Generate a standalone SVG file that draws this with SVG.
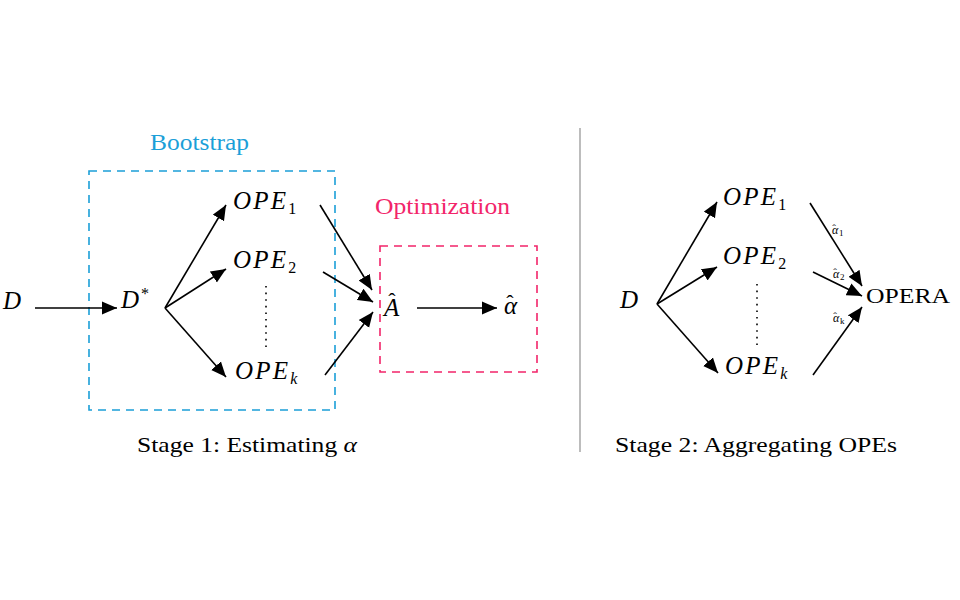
<svg xmlns="http://www.w3.org/2000/svg" width="960" height="600" viewBox="0 0 960 600">
<defs>
<marker id="ah" markerUnits="userSpaceOnUse" markerWidth="16" markerHeight="14" refX="15" refY="7" orient="auto">
<path d="M0,0.5 L15,7 L0,13.5 z" fill="#000"/>
</marker>
<style>
.math{font-family:"Liberation Serif","DejaVu Serif",serif;font-style:italic;font-size:25px;fill:#000}
.ope{letter-spacing:2.2px}
.sub{font-family:"Liberation Serif","DejaVu Serif",serif;font-style:normal;font-size:16px;letter-spacing:0}
.subi{font-family:"Liberation Serif","DejaVu Serif",serif;font-style:italic;font-size:16px;letter-spacing:0}
.hat{font-style:normal;font-size:22px}
.cap{font-family:"Liberation Serif","DejaVu Serif",serif;font-size:22px;fill:#000}
.lbl{font-family:"Liberation Serif","DejaVu Serif",serif;font-style:italic;font-size:12px;fill:#000}
.lhat{font-style:normal;font-size:11px}
.lsub{font-size:9px;font-style:normal}
.edge{stroke:#000;stroke-width:1.6;fill:none;marker-end:url(#ah)}
.dots{stroke:#000;stroke-width:1.6;stroke-dasharray:1.6 5;fill:none}
</style>
</defs>
<rect width="960" height="600" fill="#fff"/>

<g id="bootstrap">
<rect x="89" y="171" width="246" height="239" fill="none" stroke="#1B9FD8" stroke-width="1.6" stroke-dasharray="8 6"/>
<text x="150" y="150" textLength="99" lengthAdjust="spacingAndGlyphs" font-family="Liberation Serif, DejaVu Serif, serif" font-size="23" fill="#1B9FD8">Bootstrap</text>
</g>
<g id="optimization">
<rect x="380" y="246" width="157" height="126" fill="none" stroke="#F2256A" stroke-width="1.6" stroke-dasharray="8 6"/>
<text x="375" y="214" textLength="135" lengthAdjust="spacingAndGlyphs" font-family="Liberation Serif, DejaVu Serif, serif" font-size="23" fill="#F2256A">Optimization</text>
</g>

<g id="divider"><line x1="580" y1="128" x2="580" y2="452" stroke="#999" stroke-width="1.3"/></g>

<g id="s1-D"><text class="math" x="3" y="309">D</text></g>
<g id="s1-Dstar"><text class="math" x="121" y="308">D<tspan class="sub" dx="2" dy="-9">*</tspan></text></g>
<g id="s1-OPE1"><text class="math ope" x="233" y="209">OPE<tspan class="sub" dy="5">1</tspan></text></g>
<g id="s1-OPE2"><text class="math ope" x="233" y="268">OPE<tspan class="sub" dy="5">2</tspan></text></g>
<g id="s1-OPEk"><text class="math ope" x="235" y="379">OPE<tspan class="subi" dy="5">k</tspan></text></g>
<g id="s1-dots"><line class="dots" x1="266" y1="286" x2="266" y2="348"/></g>
<g id="s1-Ahat"><text class="math" x="384" y="316">A<tspan class="hat" dx="-11" dy="-8">ˆ</tspan></text></g>
<g id="s1-alphahat"><text class="math" x="504" y="314">α<tspan class="hat" dx="-11" dy="-4">ˆ</tspan></text></g>

<g id="s2-D"><text class="math" x="620" y="308">D</text></g>
<g id="s2-OPE1"><text class="math ope" x="723" y="205">OPE<tspan class="sub" dy="5">1</tspan></text></g>
<g id="s2-OPE2"><text class="math ope" x="723" y="264">OPE<tspan class="sub" dy="5">2</tspan></text></g>
<g id="s2-OPEk"><text class="math ope" x="725" y="374">OPE<tspan class="subi" dy="5">k</tspan></text></g>
<g id="s2-dots"><line class="dots" x1="757" y1="284" x2="757" y2="346"/></g>
<g id="s2-OPERA"><text x="866" y="303" textLength="84" lengthAdjust="spacingAndGlyphs" font-family="Liberation Serif, DejaVu Serif, serif" font-size="22" fill="#000">OPERA</text></g>

<g id="connectors">
<line class="edge" x1="35" y1="308" x2="117" y2="308"/>
<line class="edge" x1="165" y1="308" x2="226" y2="205"/>
<line class="edge" x1="165" y1="308" x2="226" y2="269"/>
<line class="edge" x1="165" y1="308" x2="226" y2="377"/>
<line class="edge" x1="320" y1="205" x2="372" y2="290"/>
<line class="edge" x1="323" y1="272" x2="373" y2="302"/>
<line class="edge" x1="325" y1="375" x2="373" y2="312"/>
<line class="edge" x1="417" y1="308" x2="497" y2="308"/>
<line class="edge" x1="657" y1="304" x2="717" y2="202"/>
<line class="edge" x1="657" y1="304" x2="717" y2="267"/>
<line class="edge" x1="657" y1="304" x2="718" y2="373"/>
<line class="edge" x1="810" y1="203" x2="862" y2="286"/>
<line class="edge" x1="813" y1="272" x2="862" y2="296"/>
<line class="edge" x1="813" y1="375" x2="862" y2="307"/>
<g id="w1"><text class="lbl" x="832" y="234">α<tspan class="lhat" dx="-6" dy="-2">ˆ</tspan><tspan class="lsub" dx="3" dy="4">1</tspan></text></g>
<g id="w2"><text class="lbl" x="833" y="278">α<tspan class="lhat" dx="-6" dy="-2">ˆ</tspan><tspan class="lsub" dx="3" dy="4">2</tspan></text></g>
<g id="wk"><text class="lbl" x="833" y="322">α<tspan class="lhat" dx="-6" dy="-2">ˆ</tspan><tspan class="lsub" dx="3" dy="4" font-style="italic">k</tspan></text></g>
</g>

<g id="captions">
<text class="cap" x="137" y="452" textLength="220" lengthAdjust="spacingAndGlyphs">Stage 1: Estimating <tspan font-style="italic">α</tspan></text>
<text class="cap" x="615" y="452" textLength="282" lengthAdjust="spacingAndGlyphs">Stage 2: Aggregating OPEs</text>
</g>
</svg>
